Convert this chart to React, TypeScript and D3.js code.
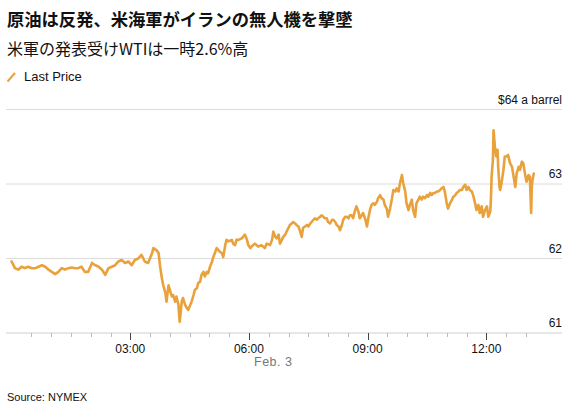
import React from "react";
import * as d3 from "d3";

const title = "原油は反発、米海軍がイランの無人機を撃墜";
const subtitle = "米軍の発表受けWTIは一時2.6%高";
const seriesName = "Last Price";
const source = "Source: NYMEX";
const dateLabel = "Feb. 3";
const unitLabel = "$64 a barrel";

// minutes since 00:00 (Feb. 3)
const minutes = [
  0, 5, 10, 15, 20, 25, 31, 36, 41, 46, 51, 56, 61, 66, 71, 76, 81, 86, 91, 96, 101, 106, 111, 116, 122, 127, 132, 137, 142, 147, 152, 157, 162, 167, 172, 177, 182, 187, 192,
  197, 202, 207, 213, 215, 220, 223, 225, 228, 230, 233, 235, 238, 240, 243, 245, 248, 250, 253, 255, 258, 260, 263, 266, 268, 271, 273, 276, 278, 281, 283, 286, 288, 291, 293, 296, 298, 301, 304, 306, 309, 311, 314, 316, 319, 321, 324, 326, 329, 334, 336, 339, 341, 344, 349, 351, 354, 357, 359, 362, 364, 369, 374, 379, 384,
  387, 392, 395, 397, 400, 402, 405, 407, 410, 412, 415, 417, 420, 422, 425, 427, 430, 432, 435, 437, 440, 442, 445, 448, 450, 453, 455, 458, 460, 463, 465, 468, 470, 473, 475, 478, 480, 483, 486, 488, 491, 493, 496, 498, 501, 503, 506, 508, 511, 513, 516, 518, 521, 523, 526, 528, 531, 533, 536, 539, 541, 544, 546, 549, 551, 554, 556, 559, 561, 564, 566, 569, 571, 574, 577, 579,
  582, 584, 587, 589, 592, 594, 597, 599, 602, 604, 607, 609, 612, 614, 617, 619, 622, 624, 627, 630, 632, 635, 637, 640, 642, 645, 647, 650, 652, 655, 657, 660, 662, 665, 668, 670, 673, 675, 678, 680, 683, 685, 688, 690, 693, 695, 698, 700, 703, 705, 708, 710, 713, 715, 718, 721, 723, 726, 727, 728, 730, 731, 733, 735, 737, 738, 740, 741, 743, 746, 748, 751, 753, 756, 759, 761, 764, 766, 769, 771, 774, 776, 779, 781, 784, 786, 788, 789, 790, 792,
];

const prices = [
  61.96, 61.87, 61.85, 61.89, 61.87, 61.89, 61.87, 61.87, 61.89, 61.91, 61.89, 61.85, 61.82, 61.79, 61.82, 61.87, 61.85, 61.87, 61.88, 61.87, 61.87, 61.89, 61.82, 61.82, 61.94, 61.91, 61.89, 61.85, 61.78, 61.87, 61.89, 61.91, 61.96, 61.98, 61.94, 61.96, 61.91, 61.98, 62.0,
  62.05, 61.96, 61.94, 62.07, 62.14, 62.11, 62.07, 61.91, 61.73, 61.64, 61.55, 61.42, 61.64, 61.58, 61.49, 61.51, 61.42, 61.49, 61.38, 61.15, 61.42, 61.47, 61.38, 61.33, 61.31, 61.38, 61.42, 61.51, 61.58, 61.6, 61.67, 61.69, 61.78, 61.82, 61.76, 61.82, 61.8, 61.89, 61.96, 62.02, 62.09, 62.14, 62.11, 62.09, 62.07, 62.02, 62.18, 62.25, 62.23, 62.25, 62.2, 62.18, 62.25, 62.25, 62.27, 62.29, 62.32, 62.25, 62.18, 62.14, 62.16, 62.2, 62.16, 62.18, 62.14,
  62.2, 62.18, 62.25, 62.36, 62.29, 62.27, 62.32, 62.2, 62.25, 62.29, 62.32, 62.36, 62.41, 62.45, 62.47, 62.49, 62.47, 62.45, 62.43, 62.38, 62.29, 62.41, 62.43, 62.45, 62.43, 62.47, 62.49, 62.52, 62.54, 62.52, 62.54, 62.56, 62.58, 62.56, 62.54, 62.54, 62.49, 62.47, 62.52, 62.52, 62.49, 62.45, 62.43, 62.38, 62.45, 62.52, 62.56, 62.56, 62.54, 62.58, 62.58, 62.54, 62.65, 62.7, 62.63, 62.54, 62.58, 62.61, 62.54, 62.43, 62.54, 62.67, 62.72, 62.74, 62.72, 62.76, 62.81, 62.85, 62.81, 62.79, 62.72, 62.67, 62.56, 62.67, 62.81, 62.92,
  62.9, 62.94, 62.9, 63.01, 63.12, 63.01, 62.9, 62.74, 62.65, 62.72, 62.79, 62.65, 62.56, 62.74, 62.79, 62.83, 62.79, 62.83, 62.81, 62.85, 62.83, 62.88, 62.85, 62.88, 62.88, 62.9, 62.9, 62.92, 62.94, 62.96, 62.9, 62.74, 62.67, 62.74, 62.79, 62.83, 62.85, 62.88, 62.9, 62.92, 62.92, 62.96, 62.99, 62.92, 62.96, 62.92, 62.9, 62.85, 62.74, 62.65, 62.72, 62.61, 62.7, 62.56, 62.65, 62.7, 62.56, 62.63, 62.79, 63.1, 63.32, 63.72, 63.5, 63.37, 63.46, 63.23, 62.96, 62.92, 63.01, 63.19, 63.37, 63.37, 63.39, 63.28, 63.23, 63.12, 62.96, 63.14, 63.23, 63.19, 63.3, 63.28, 63.12, 63.03, 63.12, 63.1, 62.61, 62.96, 63.05, 63.14,
];

const yTicks = [61, 62, 63, 64];
const minorTickMinutes = d3.range(30, 781, 30);
const majorTickMinutes = [180, 360, 540, 720];

const W = 575;
const H = 416;
const LINE_COLOR = "#E9A13B";
const SANS = "'Liberation Sans', Arial, Helvetica, sans-serif";
const CJK = "'Noto Sans CJK JP', 'Liberation Sans', sans-serif";

export default function App() {
  const x = d3.scaleLinear().domain([-8.5, 834.8]).range([6, 562]);
  const y = d3.scaleLinear().domain([61, 64]).range([333, 109.5]);

  const data = minutes.map((m, i) => ({ m, p: prices[i] }));
  const line = d3
    .line<{ m: number; p: number }>()
    .x((d) => x(d.m))
    .y((d) => y(d.p))
    .curve(d3.curveLinear);

  const fmt = (m: number) => {
    const h = Math.floor(m / 60);
    const mm = m % 60;
    return `${String(h).padStart(2, "0")}:${String(mm).padStart(2, "0")}`;
  };

  const [x0, x1] = x.range();

  return (
    <svg
      width={W}
      height={H}
      style={{ position: "absolute", left: 0, top: 0, background: "#fff" }}
    >
      <text x={7} y={26} fontFamily={CJK} fontWeight={700} fontSize={17.3} fill="#111">
        {title}
      </text>
      <text x={7} y={54.5} fontFamily={CJK} fontSize={16} fill="#111">
        {subtitle}
      </text>
      <line x1={7.5} y1={81.5} x2={15} y2={73} stroke={LINE_COLOR} strokeWidth={2} />
      <text x={24} y={81} fontFamily={SANS} fontSize={13} fill="#111">
        {seriesName}
      </text>

      {yTicks.map((t) => (
        <g key={t}>
          <line
            x1={x0}
            x2={x1}
            y1={y(t)}
            y2={y(t)}
            stroke={t === 61 ? "#cfcfcf" : "#dcdcdc"}
            strokeWidth={1}
          />
          <text
            x={x1}
            y={y(t) - 6}
            textAnchor="end"
            fontFamily={SANS}
            fontSize={12}
            fill="#111"
          >
            {t === 64 ? unitLabel : String(t)}
          </text>
        </g>
      ))}

      {minorTickMinutes.map((m) => {
        const major = majorTickMinutes.includes(m);
        return (
          <line
            key={m}
            x1={Math.round(x(m)) + 0.5}
            x2={Math.round(x(m)) + 0.5}
            y1={y(61)}
            y2={y(61) + (major ? 7 : 4)}
            stroke={major ? "#444" : "#bbb"}
            strokeWidth={1}
          />
        );
      })}
      {majorTickMinutes.map((m) => (
        <text
          key={m}
          x={x(m)}
          y={352.5}
          textAnchor="middle"
          fontFamily={SANS}
          fontSize={12}
          fill="#111"
        >
          {fmt(m)}
        </text>
      ))}
      <text x={254} y={366} fontFamily={SANS} fontSize={12.5} fill="#777" letterSpacing={0.5}>
        {dateLabel}
      </text>

      <path
        d={line(data) || ""}
        fill="none"
        stroke={LINE_COLOR}
        strokeWidth={2.6}
        strokeLinejoin="round"
        strokeLinecap="round"
      />

      <text x={7} y={400.5} fontFamily={SANS} fontSize={11} fill="#111">
        {source}
      </text>
    </svg>
  );
}
